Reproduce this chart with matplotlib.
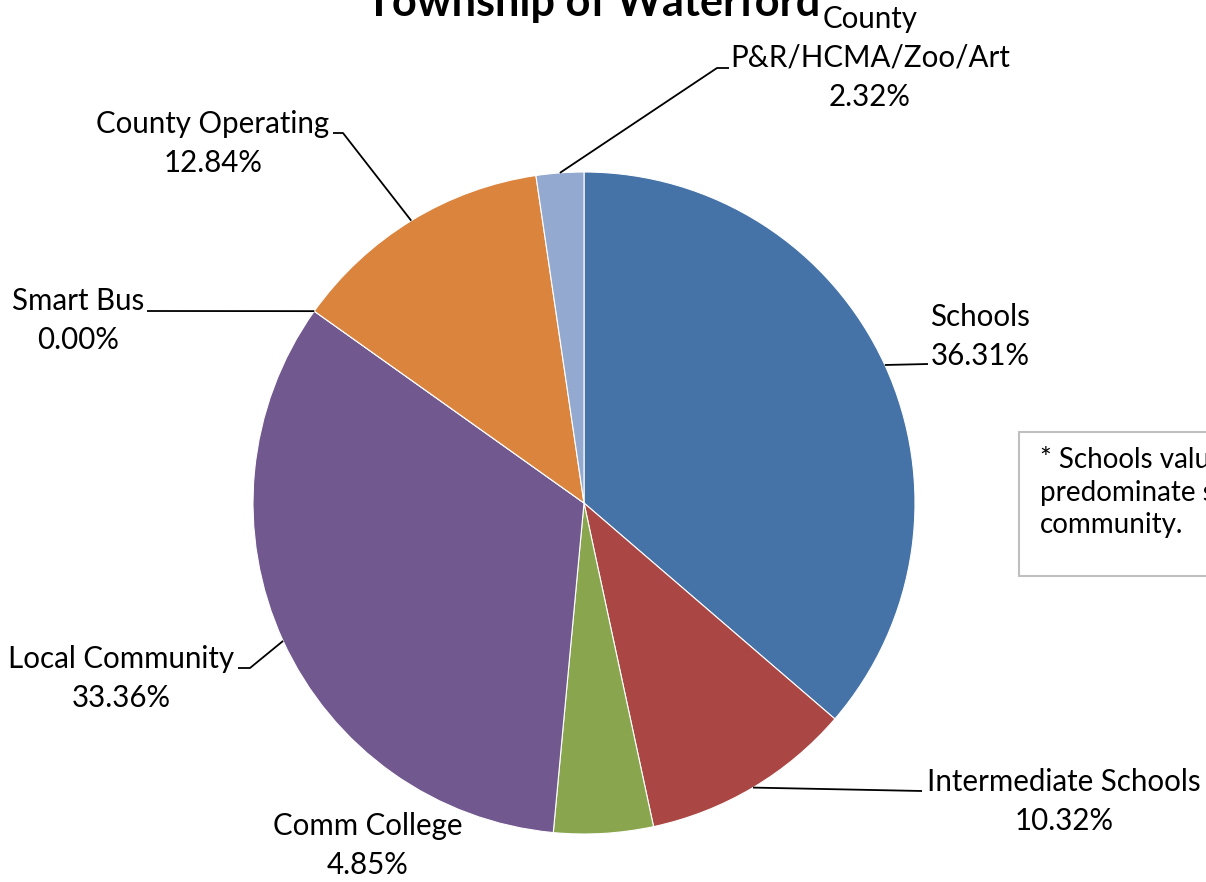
import matplotlib
matplotlib.use("Agg")
import matplotlib.pyplot as plt
import numpy as np
from matplotlib.patches import Rectangle

# ---- data ----
categories = ["Schools", "Intermediate Schools", "Comm College", "Local Community",
              "Smart Bus", "County Operating", "County P&R/HCMA/Zoo/Art"]
shares = [36.31, 10.32, 4.85, 33.36, 0.00, 12.84, 2.32]
label_names = ["Schools", "Intermediate Schools", "Comm College", "Local Community",
               "Smart Bus", "County Operating", "County\nP&R/HCMA/Zoo/Art"]
colors = ["#4572A7", "#AA4643", "#89A54E", "#71588F", "#4198AF", "#DB843D", "#93A9CF"]
title = "Township of Waterford"
note_lines = ["* Schools value reflects the", "predominate school district in the", "community."]

# ---- layout (pixels from top-left) ----
W, H = 1206, 882
FONT = "Lato"
cx, cy, R = 584, 503, 331
label_x = [980, 1064, 368, 121, 78, 213, 870]
label_base = [326, 791, 835, 668, 310, 133, 28]
line_gap = 39
leader_via = [[(928, 364)], [(922, 791)], None, [(250, 668), (238, 668)],
              [(147, 311)], [(343, 133), (333, 133)], [(717, 68), (729, 68)]]


def Y(y):
    return H - y


fig = plt.figure(figsize=(W / 100, H / 100), dpi=100)
ax = fig.add_axes([0, 0, 1, 1])
renderer = fig.canvas.get_renderer()


def fit(text, target, **kw):
    t = ax.text(0, 0, text, fontsize=20, family=FONT, **kw)
    w = t.get_window_extent(renderer).width
    t.remove()
    return 20 * target / w


lab_fs = fit("Intermediate Schools", 274)
title_fs = fit(title, 454, fontweight="bold")
note_fs = fit("community.", 143)

wedges, _ = ax.pie(shares, colors=colors, startangle=90, counterclock=False,
                   center=(cx, Y(cy)), radius=R, frame=True,
                   wedgeprops=dict(edgecolor="white", linewidth=0.8))
ax.set_xlim(0, W)
ax.set_ylim(0, H)
ax.set_aspect("equal")
ax.axis("off")

for i, w in enumerate(wedges):
    lines = label_names[i].split("\n") + [f"{shares[i]:.2f}%"]
    for k, ln in enumerate(lines):
        ax.text(label_x[i], Y(label_base[i] + k * line_gap), ln, ha="center", va="baseline",
                fontsize=lab_fs, family=FONT, color="black")
    if leader_via[i] is not None:
        mid = np.deg2rad((w.theta1 + w.theta2) / 2)
        pts = [(cx + R * np.cos(mid), Y(cy) + R * np.sin(mid))] + [(x, Y(y)) for x, y in leader_via[i]]
        xs, ys = zip(*pts)
        ax.plot(xs, ys, color="black", lw=1.3, solid_capstyle="butt")

ax.text(593, Y(16), title, ha="center", va="baseline", fontsize=title_fs,
        fontweight="bold", family=FONT, color="black")

ax.add_patch(Rectangle((1019, Y(576)), 400, 144, facecolor="white",
                       edgecolor="#BFBFBF", lw=1.5, clip_on=False))
for k, ln in enumerate(note_lines):
    ax.text(1040, Y(468 + k * 32.5), ln, ha="left", va="baseline", fontsize=note_fs,
            family=FONT, color="black")

fig.savefig("out.png", dpi=100)
